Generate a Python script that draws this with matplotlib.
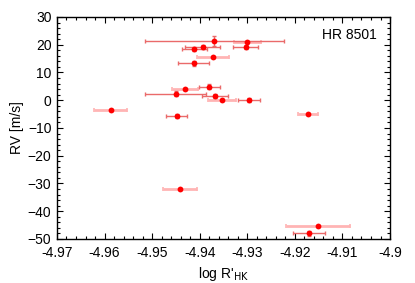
import numpy as np
import matplotlib.pyplot as plt
from matplotlib.ticker import MultipleLocator

plt.rcParams['font.family'] = ['Liberation Sans', 'DejaVu Sans']

# set A: thin darker error bars
logr_a = np.array([-4.9369, -4.9394, -4.9411, -4.9413, -4.9303, -4.9380, -4.9450,
                   -4.9368, -4.9296, -4.9448, -4.9170])
rv_a = np.array([21.3, 19.2, 18.4, 13.3, 19.2, 4.9, 2.4, 1.6, 0.0, -5.6, -48.0])
logr_err_a = np.array([0.0146, 0.0037, 0.0026, 0.0032, 0.0026, 0.0022, 0.0064,
                       0.0028, 0.0023, 0.0022, 0.0034])
rv_err_a = np.array([1.8, 0.8, 0.8, 0.8, 0.8, 0.8, 0.8, 0.8, 0.8, 0.8, 0.8])

# set B: thick pale error bars
logr_b = np.array([-4.9372, -4.9300, -4.9431, -4.9353, -4.9587, -4.9172, -4.9441,
                   -4.9151])
rv_b = np.array([15.7, 21.0, 4.2, 0.1, -3.4, -5.1, -32.0, -45.2])
logr_err_b = np.array([0.0033, 0.0028, 0.0028, 0.0030, 0.0035, 0.0021, 0.0036,
                       0.0067])

fig = plt.figure(figsize=(4.15, 2.83), dpi=100)
ax = fig.add_axes([0.1373, 0.1555, 0.8025, 0.7845])

ax.errorbar(logr_b, rv_b, xerr=logr_err_b, fmt='none', ecolor='#ffb4b4',
            elinewidth=2.0, capsize=1.5, capthick=1.2)
ax.errorbar(logr_a, rv_a, xerr=logr_err_a, yerr=rv_err_a, fmt='none',
            ecolor='#ea6a6a', elinewidth=1.0, capsize=1.5, capthick=1.0)
ax.plot(logr_b, rv_b, 'o', color='#ff0000', ms=4.2, mew=0)
ax.plot(logr_a, rv_a, 'o', color='#ff0000', ms=4.2, mew=0)

ax.set_xlim(-4.97, -4.90)
ax.set_ylim(-50, 30)
ax.xaxis.set_minor_locator(MultipleLocator(0.002))
ax.yaxis.set_major_locator(MultipleLocator(10))
ax.yaxis.set_minor_locator(MultipleLocator(2))
xt = np.arange(-4.97, -4.8999, 0.01)
ax.set_xticks(xt)
ax.set_xticklabels([f'{v:.2f}'.rstrip('0').rstrip('.') for v in xt])
ax.tick_params(which='both', direction='in', top=True, right=True, labelsize=10,
               width=0.8)
ax.tick_params(which='major', length=4)
ax.tick_params(axis='x', which='major', pad=5)
ax.tick_params(axis='y', which='major', pad=4)
ax.tick_params(which='minor', length=2)
for s in ax.spines.values():
    s.set_linewidth(1.0)

ax.set_xlabel("log R'$_{\\rm HK}$", fontsize=10, labelpad=4)
ax.set_ylabel('RV [m/s]', fontsize=10, labelpad=3)
ax.text(0.96, 0.95, 'HR 8501', transform=ax.transAxes, ha='right', va='top',
        fontsize=10)

fig.savefig('out.png', dpi=100)
